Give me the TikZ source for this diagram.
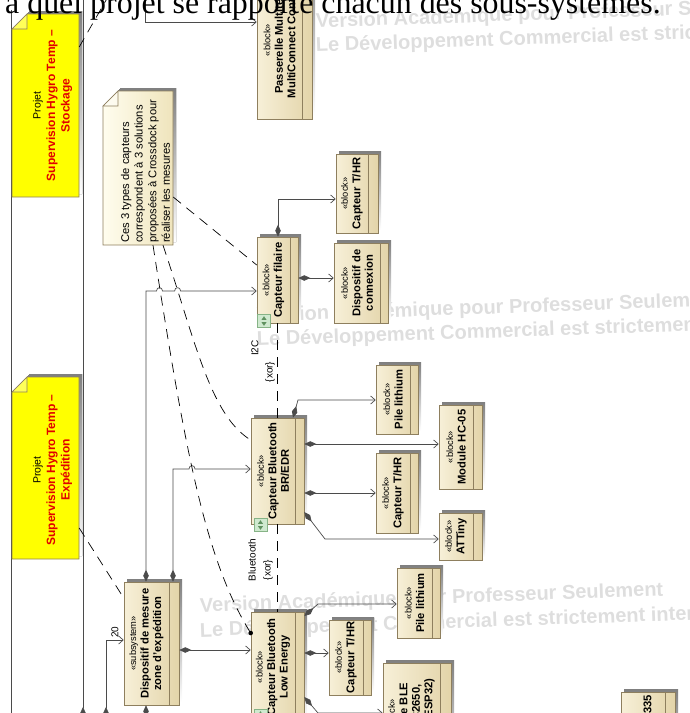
\documentclass[tikz,border=0pt]{standalone}
\usepackage{fontspec}
\setmainfont{Liberation Sans}
\newfontfamily\pageserif{Liberation Serif}
\usetikzlibrary{arrows.meta,fit}

\definecolor{blkL}{HTML}{F7F0D8}
\definecolor{blkR}{HTML}{E3D4A9}
\definecolor{blkLine}{HTML}{8E7F5E}
\definecolor{shade}{HTML}{ABABAB}
\definecolor{noteL}{HTML}{FFFDEE}
\definecolor{noteR}{HTML}{EFE4BC}
\definecolor{projYellow}{HTML}{FFFF00}
\definecolor{projRed}{HTML}{E10000}
\definecolor{wmGray}{HTML}{DEDEDE}
\definecolor{wireCol}{HTML}{4B4B4B}
\definecolor{varFill}{HTML}{CFE9CF}
\definecolor{varLine}{HTML}{86B386}
\definecolor{varMark}{HTML}{5F915F}

% stereotype line and red project name
\newcommand\stereo[1]{{\mdseries\fontsize{9.3}{11}\selectfont «#1»}}
\newcommand\projname[1]{{\color{projRed}\bfseries\fontsize{12}{14.5}\selectfont #1}}

% SysML block: #1 name, #2 x1, #3 y1, #4 x2, #5 y2, #6 compartment x, #7 text centre y, #8 text
\newcommand\sysblock[8]{%
  \fill[shade] (#2+3,#3-3) rectangle (#4+3,#5-3);
  \node[blockbox, fit={(#2,#3) (#4,#5)}] (#1) {};
  \draw[blkLine, line width=0.6pt] (#6,#3) -- (#6,#5);
  \node[blocktext] (#1-txt) at ({(#2+#6)/2},#7) {#8};
}

% note with folded corner: #1 name, #2 x1, #3 y1, #4 x2, #5 y2, #6 fold, #7 fill options
\newcommand\notebox[7]{%
  \fill[shade] (#2+#6+3,#3-3) -- (#4+3,#3-3) -- (#4+3,#5-3) -- (#2+3,#5-3) -- (#2+3,#3+#6-3) -- cycle;
  \path[#7, draw=blkLine, line width=0.6pt] (#2+#6,#3) -- (#4,#3) -- (#4,#5) -- (#2,#5) -- (#2,#3+#6) -- cycle;
  \draw[blkLine, line width=0.6pt, fill=white, fill opacity=0.35] (#2,#3+#6) -- (#2+#6,#3+#6) -- (#2+#6,#3) -- cycle;
  \node[fit={(#2,#3) (#4,#5)}, inner sep=0pt] (#1) {};
}

% variant marker: #1 name, #2 cx, #3 cy
\newcommand\varicon[3]{%
  \node[draw=varLine, fill=varFill, minimum size=13pt, inner sep=0pt, line width=0.6pt] (#1) at (#2,#3) {};
  \fill[varMark] (#2-2.5,#3-1.2) -- (#2+2.5,#3-1.2) -- (#2,#3-4.8) -- cycle;
  \fill[varMark] (#2-2.5,#3+1.2) -- (#2+2.5,#3+1.2) -- (#2,#3+4.8) -- cycle;
}

\begin{document}
\begin{tikzpicture}[x=1pt,y=-1pt,
  blockbox/.style={draw=blkLine, line width=0.6pt, left color=blkL, right color=blkR, inner sep=0pt},
  blocktext/.style={rotate=90, align=center, inner sep=0pt, font=\bfseries\fontsize{11.2}{12.5}\selectfont},
  notetext/.style={rotate=90, inner sep=0pt, font=\fontsize{11.2}{13.6}\selectfont},
  projtext/.style={rotate=90, align=center, inner sep=0pt, font=\fontsize{10.5}{14.5}\selectfont},
  lbl/.style={rotate=90, inner sep=0pt, font=\fontsize{10}{12}\selectfont},
  wm/.style={anchor=base west, rotate=2, inner sep=0pt, text=wmGray, font=\bfseries\fontsize{20}{24}\selectfont},
  wire/.style={draw=wireCol, line width=0.7pt},
  part/.style={wire, {Diamond[length=12pt,width=5.5pt]}-{Straight Barb[length=4.5pt,width=8pt]}},
  partend/.style={wire, {Diamond[length=12pt,width=5.5pt]}-},
  assoc/.style={wire, -{Straight Barb[length=4.5pt,width=8pt]}},
  anchorline/.style={draw=black, line width=0.7pt, dash pattern=on 10pt off 7pt},
]
\useasboundingbox (0,0) rectangle (689,713);
\clip (0,0) rectangle (689,713);

% evaluation watermarks
\node[wm] (wm1a) at (316,28) {Version Académique pour Professeur Seulement};
\node[wm] (wm1b) at (316,52) {Le Développement Commercial est strictement interdit};
\node[wm] (wm2a) at (257,322) {Version Académique pour Professeur Seulement};
\node[wm] (wm2b) at (257,346) {Le Développement Commercial est strictement interdit};
\node[wm] (wm3a) at (200,612) {Version Académique pour Professeur Seulement};
\node[wm] (wm3b) at (200,637) {Le Développement Commercial est strictement interdit};

% frame edge
\draw[wire] (11,10) -- (11,720);

% notes
\notebox{noteA}{12}{14}{79}{197}{15}{fill=projYellow}
\node[projtext] (noteA-txt) at (52.5,105.5) {Projet\\\projname{Supervision Hygro Temp –}\\\projname{Stockage}};
\notebox{noteB}{12}{377}{79}{559}{15}{fill=projYellow}
\node[projtext] (noteB-txt) at (52.5,470) {Projet\\\projname{Supervision Hygro Temp –}\\\projname{Expédition}};
\notebox{note3}{103}{91}{173}{245}{15}{left color=noteL, right color=noteR}
\node[notetext, align=left, anchor=west] (note3-txt) at (145.5,243)
  {Ces 3 types de capteurs\\correspondent à 3 solutions\\proposées à Crossdock pour\\réaliser les mesures};

% blocks
\sysblock{pass}{257}{-40}{312}{119}{302}{40}{\stereo{block}\\Passerelle Multitech\\MultiConnect Conduit}
\sysblock{thrA}{336}{154}{378}{233}{368}{193.5}{\stereo{block}\\Capteur T/HR}
\sysblock{filaire}{257}{237}{298}{323}{290}{280}{\stereo{block}\\Capteur filaire}
\sysblock{conn}{334}{243}{388}{323}{380}{283}{\stereo{block}\\Dispositif de\\connexion}
\sysblock{brEdr}{251}{418}{304}{524}{295}{471}{\stereo{block}\\Capteur Bluetooth\\BR/EDR}
\sysblock{pileA}{376}{365}{418}{434}{410}{399.5}{\stereo{block}\\Pile lithium}
\sysblock{hc05}{439}{405}{482}{489}{473}{447}{\stereo{block}\\Module HC-05}
\sysblock{thrB}{376}{453}{418}{533}{410}{493}{\stereo{block}\\Capteur T/HR}
\sysblock{attiny}{439}{513}{482}{560}{473}{536.5}{\stereo{block}\\ATTiny}
\sysblock{subsys}{124}{582}{179}{705}{169}{643.5}{\stereo{subsystem}\\Dispositif de mesure\\zone d'expédition}
\sysblock{ble}{251}{612}{304}{722}{295}{667}{\stereo{block}\\Capteur Bluetooth\\Low Energy}
\sysblock{pileB}{397}{568}{440}{638}{432}{603}{\stereo{block}\\Pile lithium}
\sysblock{thrC}{329}{620}{371}{695}{363}{657.5}{\stereo{block}\\Capteur T/HR}
\sysblock{bleMod}{383}{663}{451}{790}{440}{715}{\stereo{block}\\Module BLE\\(TI CC2650,\\ou réf ESP32)}
\sysblock{lm}{621}{692}{675}{790}{665}{735}{\stereo{block}\\Capteur LM335}

\varicon{varFil}{264}{321}
\varicon{varBR}{260.5}{525}
\varicon{varBLE}{260.5}{716}

% ends of connectors leaving the view
\coordinate (topFeed) at (145,-5);
\coordinate (topA) at (83,-5);
\coordinate (bottomA) at (83,719);
\coordinate (bottomB) at (106,719);
\coordinate (bottomC) at (146,725);
\coordinate (topNote) at (109,-5);

% composition / association connectors
\draw[assoc] (topFeed) |- (pass.west |- 0,22);
\draw[partend] (bottomA) -- (topA);
\draw[part] (filaire.north -| 278,0) |- (thrA.west |- 0,199);
\draw[part] (filaire.east |- 0,278) -- (conn.west |- 0,278);
\draw[part] (subsys.north -| 146,0) -- (146,291) -- (156.5,291)
  .. controls (156.5,286.5) and (162.5,286.5) .. (162.5,291) -- (174.6,291)
  .. controls (174.6,286.5) and (180.6,286.5) .. (180.6,291) -- (filaire.west |- 0,291);
\draw[part] (subsys.north -| 173,0) -- (173,469) -- (189,469)
  .. controls (189,464.5) and (195,464.5) .. (195,469) -- (brEdr.west |- 0,469);
\draw[part] (subsys.east |- 0,650) -- (ble.west |- 0,650);
\draw[part] (bottomB) |- (subsys.west |- 0,640);
\node[lbl] (mult20) at (115,632) {20};
\draw[partend] (subsys.south -| 146,0) -- (bottomC);

\draw[part] (brEdr.north -| 293,0) -- (298,400) -- (pileA.west |- 0,400);
\draw[part] (brEdr.east |- 0,444) -- (hc05.west |- 0,444);
\draw[part] (brEdr.east |- 0,493) -- (thrB.west |- 0,493);
\draw[part] (brEdr.east |- 0,512) -- (325,539) -- (attiny.west |- 0,539);

\draw[part] (ble.east |- 0,616) -- (318,604) -- (pileB.west |- 0,604);
\draw[part] (ble.east |- 0,653) -- (thrC.west |- 0,653);
\draw[part] (ble.east |- 0,697) -- (318,713) -- (bleMod.west |- 0,713);

% xor constraints between the sensor alternatives
\draw[anchorline] (filaire.south -| 277,0) -- (brEdr.north -| 277,0);
\draw[anchorline] (brEdr.south -| 277,0) -- (ble.north -| 277,0);
\node[lbl] (lblI2C) at (255,348) {I2C};
\node[lbl] (lblXorA) at (270,372) {\{xor\}};
\node[lbl] (lblBT) at (252,560) {Bluetooth};
\node[lbl] (lblXorB) at (268,570) {\{xor\}};

% note anchors
\draw[anchorline] (noteA.east |- 0,47) -- (topNote);
\draw[anchorline] (noteB.east |- 0,528) -- (subsys.west |- 0,598);
\draw[anchorline] (note3.east |- 0,197) -- (filaire.west |- 0,265);
\draw[anchorline] (note3.south -| 163,0) .. controls (195,340) and (210,415) .. (brEdr.west |- 0,440);
\draw[anchorline] (note3.south -| 153,0) .. controls (185,450) and (205,560) .. (ble.west |- 0,633);
\fill[black] (ble.west |- 0,633) circle[radius=2.3pt];

% page text above the diagram
\node[anchor=base west, inner sep=0pt, font=\pageserif\fontsize{31.9}{36}\selectfont] (pagecaption) at (5,13)
  {à quel projet se rapporte chacun des sous-systèmes.};
\end{tikzpicture}
\end{document}
